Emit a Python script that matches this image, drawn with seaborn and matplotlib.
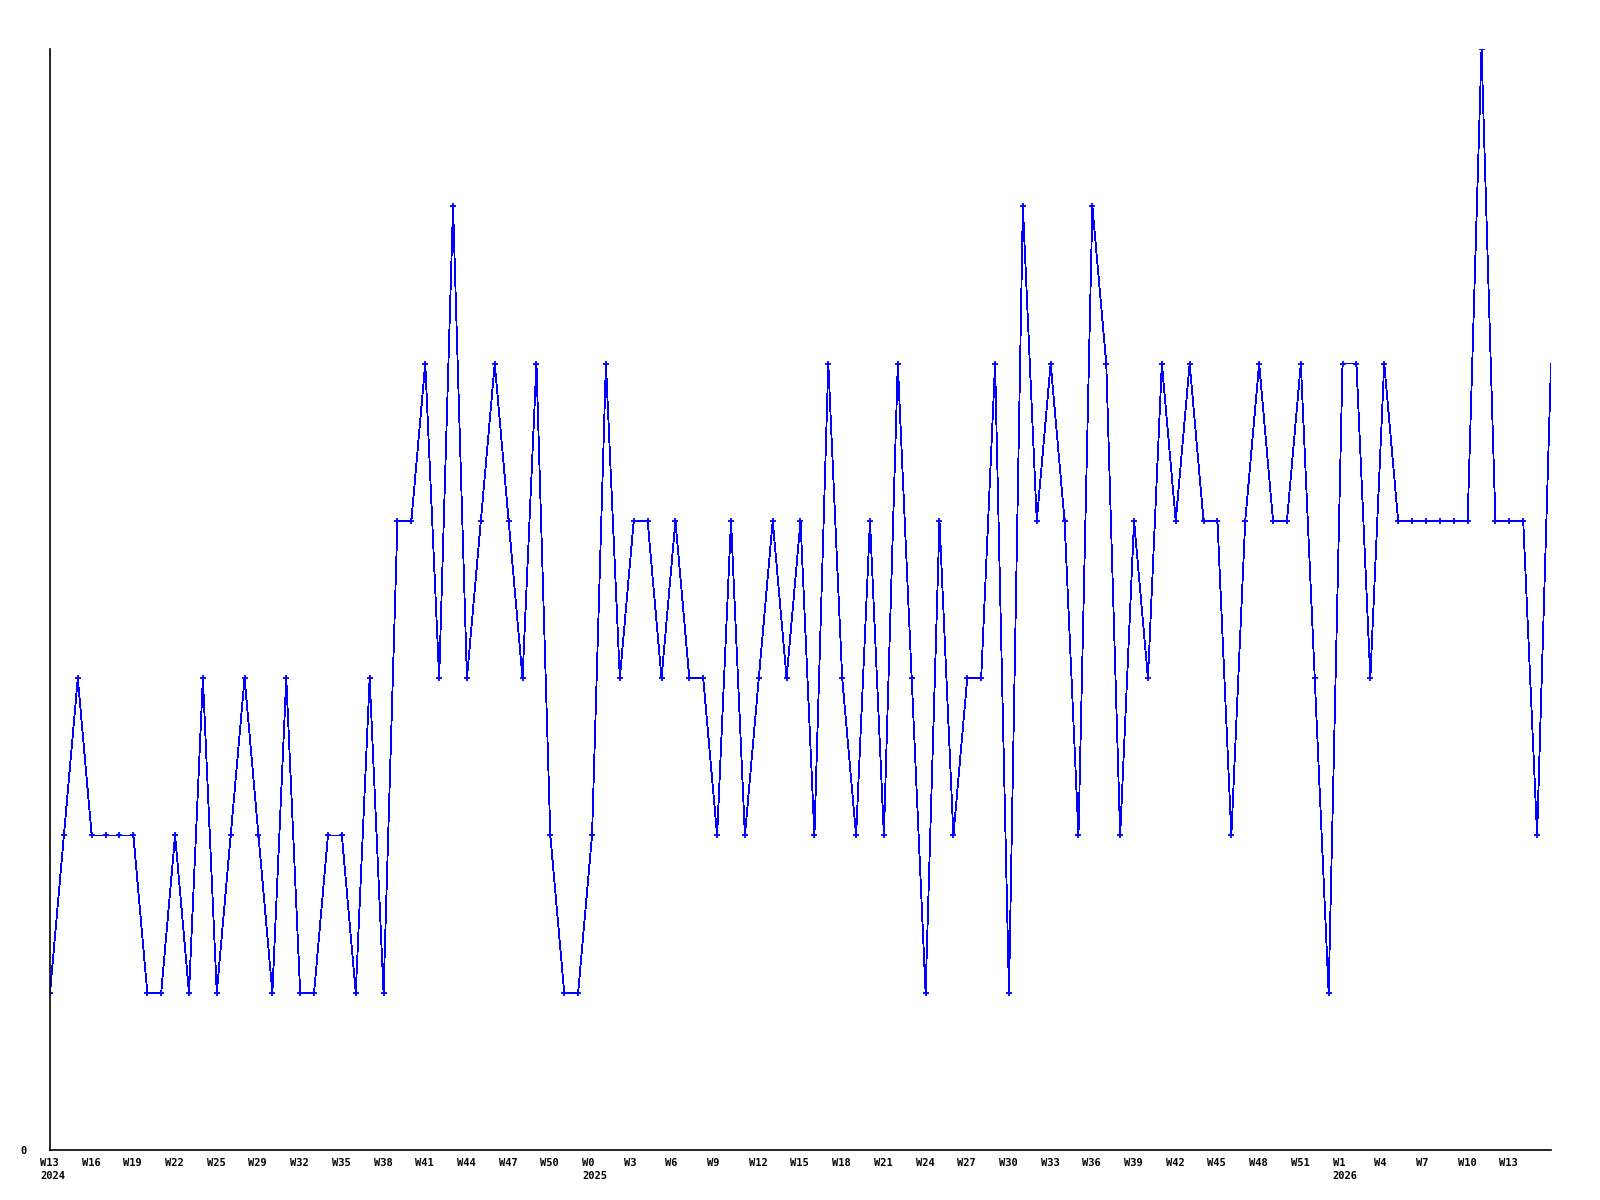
import matplotlib
matplotlib.use("Agg")
import matplotlib.pyplot as plt
import matplotlib.transforms as mtransforms
import seaborn as sns
import pandas as pd
import numpy as np

# weekly counts, 2024 W13 onward (109 weeks)
values = [1, 2, 3, 2, 2, 2, 2, 1, 1, 2,
          1, 3, 1, 2, 3, 2, 1, 3, 1, 1,
          2, 2, 1, 3, 1, 4, 4, 5, 3, 6,
          3, 4, 5, 4, 3, 5, 2, 1, 1, 2,
          5, 3, 4, 4, 3, 4, 3, 3, 2, 4,
          2, 3, 4, 3, 4, 2, 5, 3, 2, 4,
          2, 5, 3, 1, 4, 2, 3, 3, 5, 1,
          6, 4, 5, 4, 2, 6, 5, 2, 4, 3,
          5, 4, 5, 4, 4, 2, 4, 5, 4, 4,
          5, 3, 1, 5, 5, 3, 5, 4, 4, 4,
          4, 4, 4, 7, 4, 4, 4, 2, 5]

tick_labels = ["W13\n2024", "W16", "W19", "W22", "W25", "W29", "W32", "W35", "W38",
               "W41", "W44", "W47", "W50", "W0\n2025", "W3", "W6", "W9", "W12",
               "W15", "W18", "W21", "W24", "W27", "W30", "W33", "W36", "W39",
               "W42", "W45", "W48", "W51", "W1\n2026", "W4", "W7", "W10", "W13"]

df = pd.DataFrame({"week": np.arange(len(values)), "count": values})

sns.set_style("white")
plt.rcParams["font.family"] = ["DejaVu Sans Mono"]

fig = plt.figure(figsize=(16, 12), dpi=100)
ax = fig.add_axes([50/1600, 1 - 1150/1200, (1551 - 50)/1600, (1150 - 49)/1200])

sns.lineplot(data=df, x="week", y="count", ax=ax, color="#0000ff", linewidth=0.6,
             marker="+", markersize=5, markeredgewidth=1.3, markeredgecolor="#0000ff",
             markevery=list(range(len(values) - 1)), antialiased=False)

ax.set_xlim(0, len(values) - 1)
ax.set_ylim(0, 7)
ax.set_xlabel("")
ax.set_ylabel("")

ax.set_xticks(np.arange(0, 3 * len(tick_labels), 3))
ax.set_xticklabels(tick_labels, fontsize=7.5, fontweight="bold", ha="left",
                   multialignment="left", linespacing=1.45)

ax.set_yticks([0])
ax.set_yticklabels(["0"], fontsize=7.5, fontweight="bold")

ax.tick_params(axis="x", length=0, pad=5.5, colors="black")
ax.tick_params(axis="y", length=0, pad=17, colors="black")

offset = mtransforms.ScaledTranslation(-10/100, 0, fig.dpi_scale_trans)
for lbl in ax.get_xticklabels():
    lbl.set_transform(lbl.get_transform() + offset)

for side in ["top", "right"]:
    ax.spines[side].set_visible(False)
for side in ["left", "bottom"]:
    ax.spines[side].set_color("black")
    ax.spines[side].set_linewidth(1.2)

ax.grid(False)
fig.savefig("out.png", dpi=100, facecolor="white")
